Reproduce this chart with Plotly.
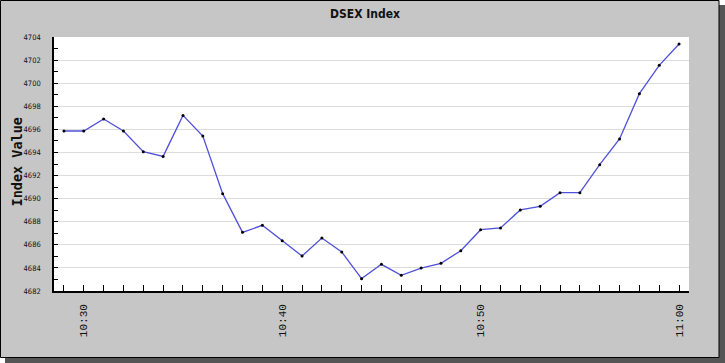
import plotly.graph_objects as go

# Data
times = ["10:29", "10:30", "10:31", "10:32", "10:33", "10:34", "10:35", "10:36",
         "10:37", "10:38", "10:39", "10:40", "10:41", "10:42", "10:43", "10:44",
         "10:45", "10:46", "10:47", "10:48", "10:49", "10:50", "10:51", "10:52",
         "10:53", "10:54", "10:55", "10:56", "10:57", "10:58", "10:59", "11:00"]
index_values = [4695.86, 4695.86, 4696.90, 4695.86, 4694.07, 4693.66, 4697.21, 4695.42,
                4690.43, 4687.08, 4687.69, 4686.36, 4685.03, 4686.59, 4685.38, 4683.07,
                4684.31, 4683.36, 4683.99, 4684.40, 4685.49, 4687.31, 4687.46, 4689.02,
                4689.33, 4690.52, 4690.52, 4692.94, 4695.17, 4699.09, 4701.55, 4703.39]
day = "2024-01-01"
x_dates = [f"{day} {t}:00" for t in times]

W, H = 725, 363
L, R, T, B = 54, 689, 37, 291   # plot area in pixels
pw, ph = R - L, B - T

def px(x):
    return (x - L) / pw

def py(y):
    return (B - y) / ph

fig = go.Figure()
fig.add_trace(go.Scatter(
    x=x_dates, y=index_values, mode="lines+markers",
    line=dict(color="#5050dc", width=1.3),
    marker=dict(color="black", size=3),
    hoverinfo="x+y", showlegend=False,
))

shapes = [
    # shadow
    dict(type="rect", xref="paper", yref="paper", x0=px(5), x1=px(725), y0=py(363), y1=py(5),
         fillcolor="#555555", line=dict(width=0), layer="below"),
    # grey panel
    dict(type="rect", xref="paper", yref="paper", x0=px(0.5), x1=px(719), y0=py(357.5), y1=py(0.5),
         fillcolor="#c6c6c6", line=dict(color="black", width=1), layer="below"),
    # white plot area
    dict(type="rect", xref="paper", yref="paper", x0=0, x1=1, y0=0, y1=1,
         fillcolor="white", line=dict(width=0), layer="below"),
]

fig.update_layout(
    width=W, height=H,
    margin=dict(l=L, r=W - R, t=T, b=H - B, pad=0),
    paper_bgcolor="white", plot_bgcolor="white",
    shapes=shapes,
    title=dict(text="<b>DSEX Index</b>", x=365 / W, xref="container", xanchor="center",
               y=1 - 13.5 / H, yref="container", yanchor="middle",
               font=dict(family="Liberation Sans Narrow, DejaVu Sans Condensed, Liberation Sans, sans-serif",
                         size=12, color="#111111")),
    annotations=[dict(text="<b>Index Value</b>", xref="paper", yref="paper",
                      x=px(16.5), y=py(162), xanchor="center", yanchor="middle",
                      textangle=-90, showarrow=False,
                      font=dict(family="DejaVu Sans Mono, Liberation Mono, monospace", size=13.5,
                                color="#111111"))],
)

fig.update_xaxes(
    type="date", range=[f"{day} 10:28:30", f"{day} 11:00:30"],
    tickmode="linear", tick0=f"{day} 10:30:00", dtick=600000,
    tickformat="%H:%M", tickangle=-90,
    ticks="inside", ticklen=6, tickcolor="black", tickwidth=1,
    minor=dict(dtick=60000, tick0=f"{day} 10:29:00", ticks="inside", ticklen=6,
               tickcolor="black", tickwidth=1, showgrid=False),
    showgrid=False, showline=True, linecolor="black", linewidth=1.5,
    zeroline=False, ticklabelstandoff=7,
    tickfont=dict(family="Liberation Mono, DejaVu Sans Mono, monospace", size=11, color="#111111"),
)

fig.update_yaxes(
    range=[4682, 4704], tickmode="linear", tick0=4682, dtick=2,
    ticks="inside", ticklen=4, tickcolor="black", tickwidth=1,
    minor=dict(dtick=1, ticks="inside", ticklen=4, tickcolor="black", tickwidth=1, showgrid=False),
    showgrid=True, gridcolor="#dcdcdc", gridwidth=1,
    showline=True, linecolor="black", linewidth=1.5, zeroline=False,
    ticklabelstandoff=10,
    tickfont=dict(family="Liberation Sans Narrow, DejaVu Sans Condensed, Liberation Sans, sans-serif",
                  size=7.5, color="#111111"),
)

fig.write_html("out.html")
